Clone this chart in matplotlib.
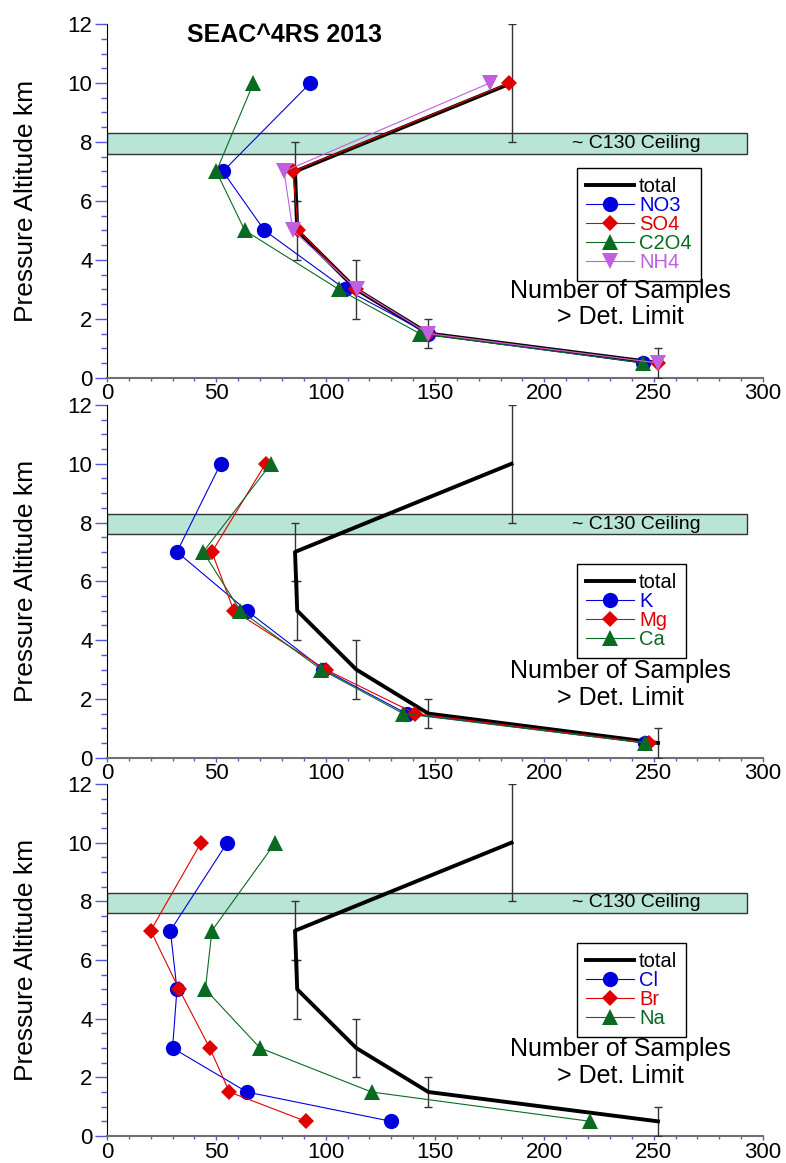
import matplotlib
matplotlib.use("Agg")
import matplotlib.pyplot as plt
from matplotlib.patches import Rectangle
from matplotlib.ticker import MultipleLocator

plt.rcParams["font.family"] = ["Liberation Sans", "DejaVu Sans"]

# altitude bins (km) shared by every profile
ALTITUDE = [0.5, 1.5, 3, 5, 7, 10]

# total number of samples and altitude bin half-widths
TOTAL_N = [252, 147, 114, 87, 86, 185]
TOTAL_ERR = [0.5, 0.5, 1, 1, 1, 2]

# panel 1
NO3 = [245, 147, 109, 72, 53, 93]
SO4 = [252, 147, 114, 87.5, 85, 184]
C2O4 = [245, 143, 106, 63, 50, 67]
NH4 = [252, 147, 114.5, 85, 81, 175]

# panel 2
K = [246, 137, 99, 64, 32, 52]
MG = [248, 141, 100, 58, 48, 72.5]
CA = [246, 135.5, 98, 61, 44, 75]

# panel 3
CL = [130, 64, 30, 32, 29, 55]
BR = [91, 56, 47, 33, 20, 43]
NA = [221, 121, 70, 45, 48, 77]

CEILING = (7.6, 8.3)

BLUE = "#0000dc"
RED = "#e00000"
GREEN = "#0b6a22"
PURPLE = "#c060e0"
TICK_BLUE = "#5555e0"

PANELS = [
    [("NO3", NO3, BLUE, "o"), ("SO4", SO4, RED, "D"),
     ("C2O4", C2O4, GREEN, "^"), ("NH4", NH4, PURPLE, "v")],
    [("K", K, BLUE, "o"), ("Mg", MG, RED, "D"), ("Ca", CA, GREEN, "^")],
    [("Cl", CL, BLUE, "o"), ("Br", BR, RED, "D"), ("Na", NA, GREEN, "^")],
]

MARKER_SIZE = {"o": 11, "D": 8, "^": 11, "v": 11}


def style_axes(ax):
    ax.set_xlim(0, 300)
    ax.set_ylim(0, 12)
    ax.spines["top"].set_visible(False)
    ax.spines["right"].set_visible(False)
    ax.spines["left"].set_color("black")
    ax.spines["bottom"].set_color("#707070")
    ax.spines["bottom"].set_linewidth(1.5)

    ax.xaxis.set_major_locator(MultipleLocator(50))
    ax.xaxis.set_minor_locator(MultipleLocator(10))
    ax.yaxis.set_major_locator(MultipleLocator(2))
    ax.yaxis.set_minor_locator(MultipleLocator(0.5))

    ax.tick_params(axis="y", which="major", direction="out", length=8.4,
                   width=1, color=TICK_BLUE, labelsize=16, pad=2)
    ax.tick_params(axis="y", which="minor", direction="out", length=4.3,
                   width=1, color=TICK_BLUE)
    ax.tick_params(axis="x", which="major", direction="out", length=3,
                   width=1, color=TICK_BLUE, labelsize=16, pad=1)
    ax.tick_params(axis="x", which="minor", direction="out", length=2.4,
                   width=1, color=TICK_BLUE)

    ax.set_ylabel("Pressure Altitude km", fontsize=19)
    ax.yaxis.set_label_coords(-0.105, 0.5)


def draw_panel(ax, series):
    style_axes(ax)

    ax.add_patch(Rectangle((0, CEILING[0]), 292.5, CEILING[1] - CEILING[0],
                           facecolor="#b9e5d6", edgecolor="#333333",
                           linewidth=1, zorder=1))
    ax.text(212.5, sum(CEILING) / 2, "~ C130 Ceiling", fontsize=14,
            va="center", ha="left", zorder=2)

    ax.errorbar(TOTAL_N, ALTITUDE, yerr=TOTAL_ERR, fmt="none",
                ecolor="#333333", elinewidth=1, capsize=2.7, zorder=3)
    handles = []
    (line,) = ax.plot(TOTAL_N, ALTITUDE, color="black", lw=2.8,
                      label="total", zorder=4)
    handles.append(line)

    for name, values, color, marker in series:
        (line,) = ax.plot(values, ALTITUDE, color=color, lw=0.8,
                          marker=marker, markersize=MARKER_SIZE[marker],
                          markeredgewidth=0, label=name, zorder=5)
        handles.append(line)

    n = len(handles)
    top = 0.594 if n == 5 else 0.549
    leg = ax.legend(handles=handles, loc="upper left",
                    bbox_to_anchor=(0.716, top), fontsize=14.5,
                    frameon=True, fancybox=False, framealpha=1,
                    edgecolor="black", borderpad=0.45, labelspacing=0.0,
                    handlelength=2.4, handletextpad=0.25,
                    borderaxespad=0)
    leg.get_frame().set_linewidth(1)
    for text, h in zip(leg.get_texts(), handles):
        text.set_color(h.get_color())

    ax.text(235, 2.5, "Number of Samples\n> Det. Limit", fontsize=18,
            ha="center", va="center", linespacing=1.15, zorder=6)


def main():
    fig = plt.figure(figsize=(7.86, 11.63), dpi=100)

    positions = [
        [0.1361, 0.6752, 0.8346, 0.3041],
        [0.1361, 0.3485, 0.8346, 0.3033],
        [0.1361, 0.0232, 0.8346, 0.3027],
    ]

    for pos, series in zip(positions, PANELS):
        ax = fig.add_axes(pos)
        draw_panel(ax, series)
        if series is PANELS[0]:
            ax.text(81, 11.63, "SEAC^4RS 2013", fontsize=18,
                    fontweight="bold", ha="center", va="center")

    fig.savefig("out.png", dpi=100)


if __name__ == "__main__":
    main()
